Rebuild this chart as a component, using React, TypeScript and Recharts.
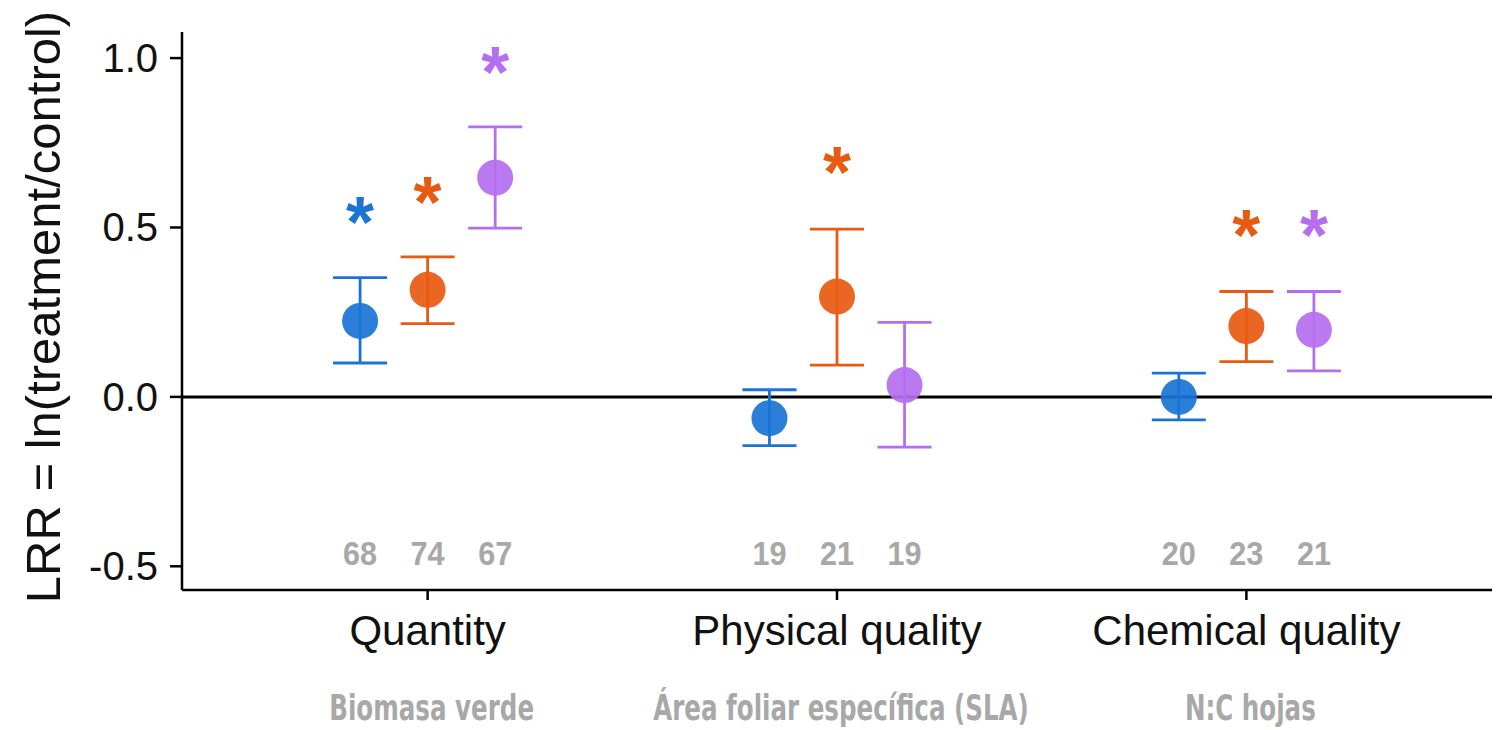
import React from "react";
import {
  ComposedChart,
  Scatter,
  XAxis,
  YAxis,
  ErrorBar,
  ReferenceLine,
} from "recharts";

// ---------------- data ----------------
const categories = ["Quantity", "Physical quality", "Chemical quality"];
const subtitles = ["Biomasa verde", "Área foliar específica (SLA)", "N:C hojas"];

const blueMean = [0.224, -0.063, 0.0];
const blueLow = [0.1, -0.144, -0.068];
const blueHigh = [0.352, 0.021, 0.07];

const orangeMean = [0.316, 0.296, 0.209];
const orangeLow = [0.216, 0.094, 0.104];
const orangeHigh = [0.413, 0.495, 0.311];

const purpleMean = [0.647, 0.035, 0.198];
const purpleLow = [0.498, -0.148, 0.077];
const purpleHigh = [0.797, 0.22, 0.311];

const blueN = [68, 19, 20];
const orangeN = [74, 21, 23];
const purpleN = [67, 19, 21];

// position of significance asterisks (null = not significant)
const blueStar: (number | null)[] = [0.547, null, null];
const orangeStar: (number | null)[] = [0.606, 0.694, 0.507];
const purpleStar: (number | null)[] = [0.989, null, 0.507];

const nLabelY = -0.46;
const yTicks = [-0.5, 0, 0.5, 1.0];

// ---------------- styles ----------------
const BLUE = "#1a74d6";
const ORANGE = "#e85a10";
const PURPLE = "#b56ef0";
const GREY = "#a8a8a8";
const DODGE = 0.165;
const COND = "'DejaVu Sans Condensed', 'DejaVu Sans', sans-serif";
const SANS = "'Liberation Sans', Arial, sans-serif";

function buildPoints(mean: number[], low: number[], high: number[], off: number) {
  return mean.map((m, i) => ({
    x: i + 1 + off,
    y: m,
    err: [m - low[i], high[i] - m],
  }));
}
function buildN(n: number[], off: number) {
  return n.map((v, i) => ({ x: i + 1 + off, y: nLabelY, n: v }));
}
function buildStars(s: (number | null)[], off: number) {
  return s
    .map((v, i) => (v === null ? null : { x: i + 1 + off, y: v }))
    .filter((d) => d !== null) as { x: number; y: number }[];
}

const series = [
  { key: "blue", color: BLUE, off: -DODGE, mean: blueMean, low: blueLow, high: blueHigh, n: blueN, star: blueStar },
  { key: "orange", color: ORANGE, off: 0, mean: orangeMean, low: orangeLow, high: orangeHigh, n: orangeN, star: orangeStar },
  { key: "purple", color: PURPLE, off: DODGE, mean: purpleMean, low: purpleLow, high: purpleHigh, n: purpleN, star: purpleStar },
];

const XTick = (props: any) => {
  const { x, y, payload } = props;
  const idx = Math.round(payload.value) - 1;
  return (
    <g>
      <text x={x} y={y + 45} textAnchor="middle" fontFamily={SANS} fontSize={42} fill="#111">
        {categories[idx]}
      </text>
      <text
        transform={`translate(${x + 4},${y + 120}) scale(0.78,1)`}
        x={0}
        y={0}
        textAnchor="middle"
        fontFamily={COND}
        fontWeight="bold"
        fontSize={35}
        fill={GREY}
      >
        {subtitles[idx]}
      </text>
    </g>
  );
};

const YTick = (props: any) => {
  const { x, y, payload } = props;
  return (
    <text x={x} y={y + 14} textAnchor="end" fontFamily={SANS} fontSize={40} fill="#111">
      {Number(payload.value).toFixed(1)}
    </text>
  );
};

export default function App() {
  return (
    <div style={{ position: "absolute", left: 0, top: 0, width: 1507, height: 730, background: "#fff", fontFamily: SANS }}>
      <ComposedChart width={1507} height={730} margin={{ top: 32, right: 15, bottom: 0, left: 0 }}>
        <XAxis
          type="number"
          dataKey="x"
          domain={[0.4, 3.6]}
          ticks={[1, 2, 3]}
          allowDataOverflow
          height={140}
          tickSize={10}
          tickMargin={0}
          axisLine={{ stroke: "#000", strokeWidth: 2.5 }}
          tickLine={{ stroke: "#000", strokeWidth: 2.5 }}
          tick={<XTick />}
        />
        <YAxis
          type="number"
          dataKey="y"
          domain={[-0.57, 1.077]}
          ticks={yTicks}
          allowDataOverflow
          width={182}
          tickSize={12}
          tickMargin={12}
          axisLine={{ stroke: "#000", strokeWidth: 2.5 }}
          tickLine={{ stroke: "#000", strokeWidth: 2.5 }}
          tick={<YTick />}
          label={{
            content: () => (
              <text
                transform="translate(60,307) rotate(-90)"
                textAnchor="middle"
                fontFamily={SANS}
                fontSize={49}
                fill="#111"
              >
                LRR = ln(treatment/control)
              </text>
            ),
          }}
        />
        <ReferenceLine y={0} stroke="#000" strokeWidth={3} />
        {series.map((s) => (
          <Scatter
            key={s.key + "-pts"}
            data={buildPoints(s.mean, s.low, s.high, s.off)}
            isAnimationActive={false}
            fill={s.color}
            shape={(p: any) => <circle cx={p.cx} cy={p.cy} r={18} fill={s.color} fillOpacity={0.92} />}
          >
            <ErrorBar dataKey="err" direction="y" width={27} stroke={s.color} strokeWidth={2.8} />
          </Scatter>
        ))}
        {series.map((s) => (
          <Scatter
            key={s.key + "-n"}
            data={buildN(s.n, s.off)}
            isAnimationActive={false}
            shape={(p: any) => (
              <text
                transform={`translate(${p.cx},${p.cy + 12}) scale(0.9,1)`}
                x={0}
                y={0}
                textAnchor="middle"
                fontFamily={SANS}
                fontWeight="bold"
                fontSize={34}
                fill={GREY}
              >
                {p.payload.n}
              </text>
            )}
          />
        ))}
        {series.map((s) => (
          <Scatter
            key={s.key + "-star"}
            data={buildStars(s.star, s.off)}
            isAnimationActive={false}
            shape={(p: any) => (
              <text x={p.cx} y={p.cy + 35} textAnchor="middle" fontFamily={SANS} fontWeight="bold" fontSize={72} fill={s.color}>
                *
              </text>
            )}
          />
        ))}
      </ComposedChart>
    </div>
  );
}
